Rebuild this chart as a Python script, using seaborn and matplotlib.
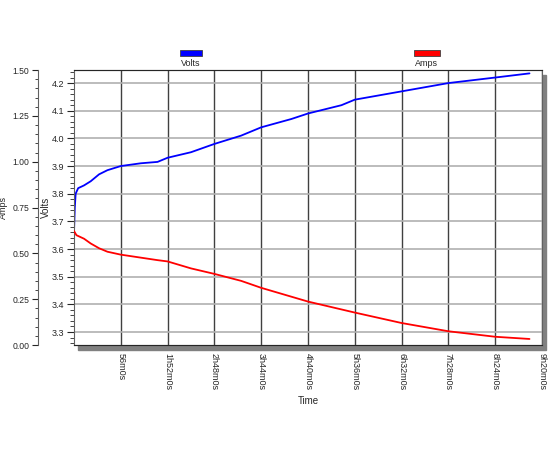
import matplotlib
matplotlib.use('Agg')
import matplotlib.pyplot as plt
import seaborn as sns
from matplotlib.ticker import MultipleLocator, AutoMinorLocator, FormatStrFormatter

# time in minutes
t_volts = [0, 1, 2, 5, 12, 20, 30, 40, 56, 80, 100, 112, 140, 168, 200, 224, 260, 280, 320, 336, 392, 448, 504, 545]
volts = [3.66, 3.75, 3.80, 3.82, 3.83, 3.845, 3.87, 3.885, 3.90, 3.91, 3.915, 3.93, 3.95, 3.98, 4.01, 4.04, 4.07, 4.09, 4.12, 4.14, 4.17, 4.20, 4.22, 4.235]
t_amps = [0, 3, 12, 20, 30, 40, 56, 100, 112, 140, 168, 200, 224, 280, 336, 392, 448, 504, 545]
amps = [0.622, 0.599, 0.58, 0.554, 0.528, 0.509, 0.493, 0.463, 0.456, 0.418, 0.388, 0.35, 0.312, 0.237, 0.177, 0.12, 0.075, 0.045, 0.033]
tick_min = [56, 112, 168, 224, 280, 336, 392, 448, 504, 560]
tick_labels = ['56m0s', '1h52m0s', '2h48m0s', '3h44m0s', '4h40m0s', '5h36m0s',
               '6h32m0s', '7h28m0s', '8h24m0s', '9h20m0s']

sns.set_style('white')
plt.rcParams['font.family'] = ['Liberation Sans', 'DejaVu Sans']

fig = plt.figure(figsize=(5.5, 4.5), dpi=100)
ax = fig.add_axes([0.1345, 0.2333, 0.851, 0.611])

# shadow behind the plot area
fig.patches.append(plt.Rectangle((0.1345 + 0.008, 0.2333 - 0.01), 0.851, 0.611,
                                 transform=fig.transFigure, color='#808080', zorder=0))
ax.set_facecolor('white')
ax.set_zorder(2)

sns.lineplot(x=t_volts, y=volts, ax=ax, color='#0000ff', linewidth=1.3)
ax.set_xlim(0, 560)
ax.set_ylim(3.253, 4.247)
ax.set_xticks(tick_min)
ax.set_xticklabels(tick_labels, rotation=-90, fontsize=6.5)
ax.yaxis.set_major_locator(MultipleLocator(0.1))
ax.yaxis.set_minor_locator(AutoMinorLocator(5))
ax.tick_params(axis='y', which='major', length=5, labelsize=6.5, direction='out', pad=2)
ax.tick_params(axis='y', which='minor', length=3, direction='out')
ax.tick_params(axis='x', length=0, labelsize=6.5, pad=6)
ax.grid(axis='y', color='#b0b0b0', linewidth=1.2)
ax.grid(axis='x', color='#404040', linewidth=1.0)
ax.set_ylabel('Volts', fontsize=7)
ax.yaxis.set_label_coords(-0.05, 0.5)
ax.set_xlabel('Time', fontsize=7, labelpad=4)
for s in ax.spines.values():
    s.set_color('#606060')

ax2 = ax.twinx()
sns.lineplot(x=t_amps, y=amps, ax=ax2, color='#ff0000', linewidth=1.3)
ax2.set_ylim(0, 1.5)
ax2.yaxis.set_label_position('left')
ax2.yaxis.tick_left()
ax2.spines['left'].set_position(('outward', 26))
ax2.spines['right'].set_visible(False)
ax2.spines['left'].set_color('#606060')
ax2.yaxis.set_major_locator(MultipleLocator(0.25))
ax2.yaxis.set_minor_locator(AutoMinorLocator(5))
ax2.yaxis.set_major_formatter(FormatStrFormatter('%.2f'))
ax2.tick_params(axis='y', which='major', length=4, labelsize=6.2, direction='out', pad=2)
ax2.tick_params(axis='y', which='minor', length=2.5, direction='out')
ax2.set_ylabel('Amps', fontsize=6.5)
ax2.yaxis.set_label_coords(-0.142, 0.5)

# legend boxes
fig.patches.append(plt.Rectangle((0.327, 0.876), 0.04, 0.012, transform=fig.transFigure,
                                 facecolor='#0000ff', edgecolor='#404040', lw=0.6))
fig.text(0.347, 0.868, 'Volts', fontsize=6.5, ha='center', va='top')
fig.patches.append(plt.Rectangle((0.752, 0.876), 0.048, 0.012, transform=fig.transFigure,
                                 facecolor='#ff0000', edgecolor='#404040', lw=0.6))
fig.text(0.776, 0.868, 'Amps', fontsize=6.5, ha='center', va='top')

fig.savefig('out.png', dpi=100)
